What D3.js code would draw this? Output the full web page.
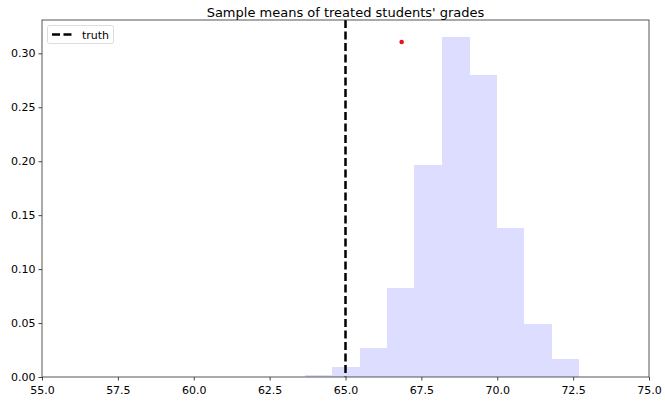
<!DOCTYPE html>
<html><head><meta charset="utf-8">
<script src="https://cdn.jsdelivr.net/npm/d3@7"></script>
<style>body{margin:0;background:#fff}svg{display:block}text{font-family:"DejaVu Sans",sans-serif}</style>
</head><body>
<svg id="c" width="665" height="401"></svg>
<script>
const binStart = 63.666;
const binWidth = 0.901;
const binDensity = [0.0016, 0.0093, 0.0269, 0.0828, 0.1965, 0.3154, 0.2796, 0.138, 0.0491, 0.0167];
const truth = 65.0;
const point = [66.85, 0.3105];
const xTicks = [55, 57.5, 60, 62.5, 65, 67.5, 70, 72.5, 75];
const yTicks = [0, 0.05, 0.10, 0.15, 0.20, 0.25, 0.30];
const title = "Sample means of treated students' grades";

const svg = d3.select("#c");
const m = {l:42, r:16, t:20, b:24};
const W = 665, H = 401;
const x = d3.scaleLinear().domain([55,75]).range([m.l, W-m.r]);
const y = d3.scaleLinear().domain([0,0.3309]).range([H-m.b, m.t]);

const bins = binDensity.map((d,i)=>({x0: binStart+i*binWidth, x1: binStart+(i+1)*binWidth, v:d}));
svg.append("g").attr("shape-rendering","crispEdges").selectAll("rect").data(bins).join("rect")
  .attr("x", d=>x(d.x0)).attr("width", d=>x(d.x1)-x(d.x0)+0.5)
  .attr("y", d=>y(d.v)).attr("height", d=>y(0)-y(d.v))
  .attr("fill", "#ddddff");

svg.append("line").attr("x1", x(truth)).attr("x2", x(truth))
  .attr("y1", y.range()[1]).attr("y2", y.range()[0])
  .attr("stroke","#000").attr("stroke-width",2.5).attr("stroke-dasharray","8,3.5");

svg.append("circle").attr("cx", x(point[0])).attr("cy", y(point[1])).attr("r", 2.3).attr("fill","#e8141c");

// spines
svg.append("rect").attr("x", m.l).attr("y", m.t).attr("width", W-m.r-m.l).attr("height", H-m.b-m.t)
  .attr("fill","none").attr("stroke","#444").attr("stroke-width",0.9);

const xa = svg.append("g").attr("transform",`translate(0,${H-m.b})`)
  .call(d3.axisBottom(x).tickValues(xTicks).tickFormat(d3.format(".1f")).tickSize(3.5).tickSizeOuter(0));
const ya = svg.append("g").attr("transform",`translate(${m.l},0)`)
  .call(d3.axisLeft(y).tickValues(yTicks).tickFormat(d3.format(".2f")).tickSize(3.5).tickSizeOuter(0));
[xa,ya].forEach(a=>{a.select(".domain").remove(); a.selectAll("line").attr("stroke","#444");
  a.selectAll("text").attr("fill","#000").style("font-size","11px");});
xa.selectAll("text").attr("dy","0.95em");

svg.append("text").attr("x", (m.l+W-m.r)/2).attr("y", 17).attr("text-anchor","middle")
  .style("font-size","13px").attr("fill","#000").text(title);

// legend
const lg = svg.append("g");
lg.append("rect").attr("x",47.5).attr("y",25.5).attr("width",66).attr("height",18).attr("rx",2)
  .attr("fill","#fff").attr("stroke","#ddd");
lg.append("line").attr("x1",52).attr("x2",73).attr("y1",34.5).attr("y2",34.5)
  .attr("stroke","#000").attr("stroke-width",2.5).attr("stroke-dasharray","8,3.5");
lg.append("text").attr("x",82).attr("y",38.5).style("font-size","11px").attr("fill","#000").text("truth");
</script>
</body></html>
